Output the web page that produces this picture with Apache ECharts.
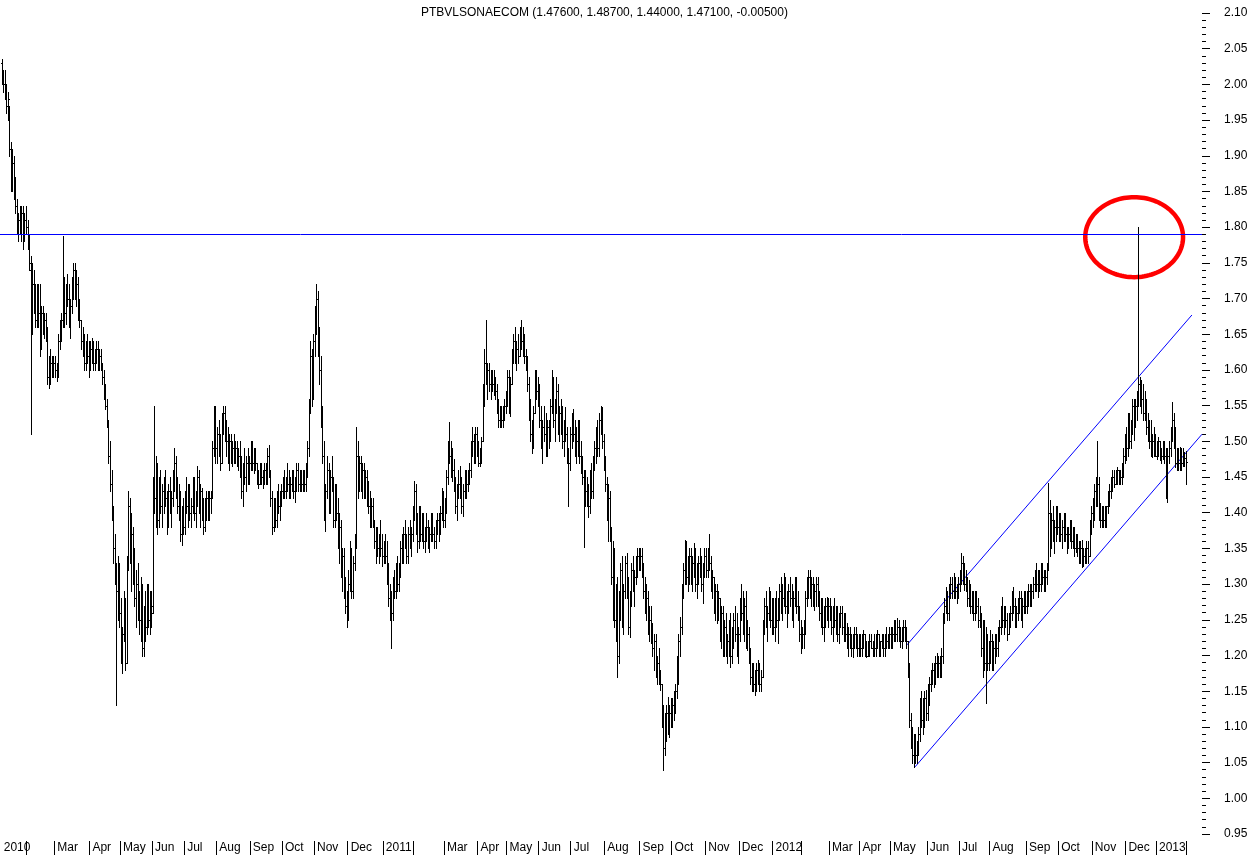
<!DOCTYPE html>
<html><head><meta charset="utf-8">
<script src="https://cdn.jsdelivr.net/npm/echarts@6/dist/echarts.min.js"></script>
<style>html,body{margin:0;padding:0;background:#fff}#c{width:1250px;height:855px}</style>
</head><body><div id="c"></div>
<script>
const chartTitle = 'PTBVLSONAECOM (1.47600, 1.48700, 1.44000, 1.47100, -0.00500)';
const monthLabels = ['2010','','Mar','Apr','May','Jun','Jul','Aug','Sep','Oct','Nov','Dec',
  '2011','','Mar','Apr','May','Jun','Jul','Aug','Sep','Oct','Nov','Dec',
  '2012','','Mar','Apr','May','Jun','Jul','Aug','Sep','Oct','Nov','Dec','2013'];
const yMin = 0.95, yMax = 2.10, yStep = 0.05;
// daily bars: [open, high, low, close], one inner array per month
const y2010 = [
[[2.03,2.035,2.00,2.01],[2.01,2.02,1.99,2.00],[2.00,2.02,1.98,1.99],[1.99,2.00,1.96,1.97],[1.97,1.99,1.95,1.98],[1.97,1.97,1.90,1.91],[1.91,1.92,1.85,1.86],[1.86,1.91,1.85,1.89],[1.89,1.90,1.84,1.85],[1.85,1.87,1.82,1.83],[1.83,1.84,1.79,1.80],[1.80,1.82,1.78,1.81],[1.81,1.83,1.79,1.80],[1.80,1.83,1.78,1.82],[1.82,1.83,1.77,1.79],[1.79,1.82,1.78,1.81],[1.81,1.83,1.79,1.80]],
[[1.80,1.81,1.77,1.78],[1.78,1.79,1.74,1.75],[1.74,1.76,1.51,1.66],[1.66,1.75,1.65,1.72],[1.72,1.74,1.68,1.70],[1.70,1.72,1.66,1.67],[1.67,1.72,1.66,1.71],[1.71,1.72,1.66,1.68],[1.68,1.72,1.62,1.64],[1.64,1.69,1.63,1.68],[1.68,1.69,1.65,1.66],[1.66,1.68,1.645,1.67],[1.67,1.68,1.64,1.65],[1.65,1.66,1.58,1.59],[1.59,1.62,1.575,1.60],[1.60,1.63,1.58,1.61],[1.61,1.62,1.59,1.60],[1.60,1.62,1.59,1.61]],
[[1.61,1.62,1.59,1.60],[1.60,1.61,1.585,1.59],[1.59,1.65,1.59,1.64],[1.64,1.67,1.63,1.66],[1.66,1.68,1.64,1.67],[1.67,1.788,1.66,1.72],[1.72,1.73,1.66,1.68],[1.68,1.72,1.665,1.71],[1.71,1.735,1.69,1.70],[1.70,1.72,1.66,1.67],[1.67,1.70,1.645,1.69],[1.69,1.73,1.68,1.72],[1.72,1.75,1.70,1.74],[1.74,1.75,1.70,1.71],[1.71,1.74,1.69,1.72],[1.72,1.73,1.67,1.68],[1.68,1.70,1.66,1.67],[1.67,1.67,1.63,1.64],[1.64,1.66,1.62,1.63],[1.63,1.65,1.60,1.61],[1.61,1.64,1.60,1.63],[1.63,1.65,1.61,1.62],[1.62,1.64,1.59,1.61]],
[[1.61,1.64,1.60,1.63],[1.63,1.645,1.61,1.62],[1.62,1.64,1.60,1.61],[1.61,1.63,1.60,1.62],[1.62,1.64,1.61,1.63],[1.63,1.64,1.60,1.61],[1.61,1.63,1.60,1.62],[1.62,1.63,1.60,1.60],[1.60,1.61,1.58,1.59],[1.59,1.60,1.56,1.57],[1.57,1.58,1.545,1.55],[1.55,1.56,1.52,1.53],[1.53,1.53,1.47,1.48],[1.48,1.50,1.43,1.44],[1.44,1.46,1.39,1.40],[1.40,1.41,1.33,1.35],[1.35,1.37,1.30,1.31],[1.31,1.33,1.13,1.29],[1.29,1.34,1.25,1.32],[1.32,1.33,1.24,1.26]],
[[1.26,1.28,1.19,1.20],[1.20,1.24,1.175,1.23],[1.23,1.29,1.22,1.27],[1.27,1.28,1.18,1.19],[1.19,1.34,1.19,1.33],[1.33,1.43,1.32,1.41],[1.41,1.42,1.33,1.35],[1.35,1.40,1.29,1.37],[1.37,1.38,1.30,1.31],[1.31,1.35,1.27,1.28],[1.28,1.32,1.24,1.30],[1.30,1.33,1.25,1.26],[1.26,1.29,1.23,1.25],[1.25,1.31,1.22,1.29],[1.29,1.30,1.20,1.21],[1.21,1.27,1.20,1.26],[1.26,1.29,1.22,1.24],[1.24,1.30,1.23,1.28],[1.28,1.30,1.24,1.25],[1.25,1.29,1.23,1.27],[1.27,1.29,1.24,1.26]],
[[1.27,1.45,1.26,1.44],[1.44,1.55,1.40,1.42],[1.42,1.48,1.38,1.46],[1.46,1.47,1.37,1.39],[1.39,1.45,1.38,1.43],[1.43,1.46,1.40,1.41],[1.41,1.44,1.38,1.43],[1.43,1.45,1.40,1.44],[1.44,1.46,1.41,1.42],[1.42,1.43,1.37,1.39],[1.39,1.44,1.38,1.43],[1.43,1.45,1.40,1.41],[1.41,1.43,1.38,1.42],[1.42,1.46,1.41,1.45],[1.45,1.49,1.43,1.47],[1.47,1.48,1.42,1.43],[1.43,1.45,1.40,1.41],[1.41,1.44,1.39,1.42],[1.42,1.43,1.36,1.37],[1.37,1.41,1.355,1.40],[1.40,1.42,1.37,1.38]],
[[1.38,1.43,1.37,1.42],[1.42,1.45,1.40,1.41],[1.41,1.44,1.38,1.43],[1.43,1.44,1.39,1.40],[1.40,1.42,1.38,1.41],[1.41,1.45,1.40,1.44],[1.44,1.45,1.39,1.40],[1.40,1.43,1.38,1.42],[1.42,1.465,1.41,1.45],[1.45,1.46,1.40,1.41],[1.41,1.44,1.38,1.43],[1.43,1.435,1.39,1.40],[1.40,1.42,1.37,1.38],[1.38,1.42,1.375,1.41],[1.41,1.43,1.39,1.42],[1.42,1.43,1.39,1.40],[1.40,1.43,1.39,1.42],[1.42,1.43,1.40,1.42],[1.42,1.50,1.42,1.49],[1.49,1.55,1.48,1.53],[1.53,1.55,1.47,1.49]],
[[1.49,1.52,1.47,1.51],[1.51,1.53,1.48,1.49],[1.49,1.51,1.46,1.47],[1.47,1.54,1.47,1.53],[1.53,1.55,1.51,1.54],[1.54,1.55,1.50,1.51],[1.51,1.53,1.48,1.50],[1.50,1.52,1.47,1.48],[1.48,1.51,1.46,1.50],[1.50,1.51,1.47,1.48],[1.48,1.50,1.465,1.49],[1.49,1.51,1.47,1.48],[1.48,1.50,1.47,1.49],[1.49,1.50,1.465,1.47],[1.47,1.49,1.46,1.48],[1.48,1.50,1.45,1.46],[1.46,1.48,1.42,1.43],[1.43,1.47,1.41,1.46],[1.46,1.49,1.44,1.45],[1.45,1.48,1.43,1.47],[1.47,1.49,1.44,1.45],[1.45,1.48,1.44,1.47]],
[[1.47,1.50,1.46,1.49],[1.49,1.50,1.46,1.47],[1.47,1.49,1.455,1.48],[1.48,1.49,1.46,1.47],[1.47,1.47,1.44,1.45],[1.45,1.46,1.435,1.44],[1.44,1.47,1.44,1.46],[1.46,1.47,1.44,1.45],[1.45,1.46,1.435,1.44],[1.44,1.47,1.44,1.46],[1.46,1.47,1.44,1.45],[1.45,1.49,1.44,1.48],[1.48,1.495,1.45,1.46],[1.46,1.46,1.41,1.42],[1.42,1.43,1.37,1.38],[1.38,1.42,1.375,1.41],[1.41,1.42,1.38,1.39],[1.39,1.43,1.38,1.42],[1.42,1.44,1.40,1.41],[1.41,1.43,1.39,1.42],[1.42,1.44,1.41,1.43]],
[[1.43,1.45,1.42,1.44],[1.44,1.46,1.42,1.43],[1.43,1.45,1.42,1.45],[1.45,1.47,1.43,1.44],[1.44,1.46,1.42,1.43],[1.43,1.45,1.42,1.44],[1.44,1.46,1.43,1.45],[1.45,1.46,1.42,1.43],[1.43,1.45,1.415,1.44],[1.44,1.47,1.43,1.46],[1.46,1.47,1.43,1.44],[1.44,1.46,1.43,1.45],[1.45,1.46,1.43,1.44],[1.44,1.46,1.43,1.45],[1.45,1.46,1.43,1.44],[1.44,1.47,1.43,1.46],[1.46,1.50,1.45,1.49],[1.49,1.56,1.48,1.55],[1.55,1.64,1.54,1.62],[1.62,1.63,1.55,1.57],[1.57,1.65,1.56,1.64]],
[[1.64,1.69,1.62,1.68],[1.68,1.72,1.65,1.70],[1.70,1.71,1.62,1.63],[1.63,1.66,1.58,1.60],[1.60,1.62,1.52,1.53],[1.53,1.55,1.47,1.48],[1.48,1.50,1.39,1.40],[1.40,1.44,1.375,1.43],[1.43,1.48,1.42,1.46],[1.46,1.47,1.40,1.41],[1.41,1.46,1.40,1.45],[1.45,1.48,1.43,1.44],[1.44,1.45,1.38,1.39],[1.39,1.44,1.38,1.43],[1.43,1.44,1.39,1.40],[1.40,1.42,1.35,1.36],[1.36,1.40,1.33,1.38],[1.38,1.39,1.31,1.32],[1.32,1.35,1.29,1.34],[1.34,1.35,1.28,1.29],[1.29,1.31,1.26,1.27],[1.27,1.29,1.24,1.26]],
[[1.26,1.32,1.25,1.30],[1.30,1.36,1.29,1.34],[1.34,1.35,1.28,1.29],[1.29,1.34,1.28,1.33],[1.33,1.37,1.32,1.36],[1.36,1.52,1.35,1.48],[1.48,1.50,1.42,1.44],[1.44,1.48,1.43,1.47],[1.47,1.48,1.43,1.44],[1.44,1.47,1.42,1.46],[1.46,1.47,1.42,1.43],[1.43,1.46,1.42,1.45],[1.45,1.46,1.41,1.42],[1.42,1.445,1.40,1.41],[1.41,1.43,1.38,1.39],[1.39,1.42,1.38,1.41],[1.41,1.42,1.38,1.38],[1.38,1.39,1.35,1.36],[1.36,1.38,1.33,1.37],[1.37,1.38,1.34,1.35],[1.35,1.37,1.33,1.36],[1.36,1.39,1.34,1.35],[1.35,1.37,1.325,1.34]]
];
const y2011 = [
[[1.34,1.36,1.33,1.35],[1.35,1.37,1.33,1.34],[1.34,1.36,1.30,1.31],[1.31,1.33,1.27,1.28],[1.28,1.30,1.25,1.27],[1.27,1.29,1.21,1.26],[1.26,1.31,1.25,1.30],[1.30,1.32,1.28,1.29],[1.29,1.33,1.28,1.32],[1.32,1.34,1.29,1.30],[1.30,1.33,1.29,1.32],[1.32,1.36,1.31,1.35],[1.35,1.37,1.33,1.34],[1.34,1.38,1.33,1.37],[1.37,1.39,1.35,1.36],[1.36,1.37,1.33,1.34],[1.34,1.38,1.33,1.37],[1.37,1.39,1.35,1.36],[1.36,1.38,1.34,1.37],[1.37,1.41,1.36,1.40]],
[[1.40,1.445,1.39,1.43],[1.43,1.44,1.37,1.38],[1.38,1.40,1.345,1.36],[1.36,1.41,1.35,1.40],[1.40,1.41,1.36,1.37],[1.37,1.40,1.36,1.39],[1.39,1.40,1.35,1.36],[1.36,1.38,1.345,1.37],[1.37,1.40,1.36,1.38],[1.38,1.39,1.35,1.36],[1.36,1.38,1.345,1.37],[1.37,1.40,1.36,1.39],[1.39,1.40,1.36,1.37],[1.37,1.38,1.35,1.36],[1.36,1.39,1.35,1.38],[1.38,1.40,1.37,1.39],[1.39,1.40,1.36,1.37],[1.37,1.41,1.37,1.40],[1.40,1.435,1.39,1.42],[1.42,1.43,1.38,1.39]],
[[1.39,1.42,1.38,1.41],[1.41,1.46,1.40,1.45],[1.45,1.50,1.44,1.49],[1.49,1.527,1.47,1.48],[1.48,1.50,1.45,1.47],[1.47,1.49,1.445,1.46],[1.46,1.475,1.43,1.44],[1.44,1.45,1.40,1.41],[1.41,1.44,1.39,1.43],[1.43,1.46,1.42,1.44],[1.44,1.465,1.42,1.43],[1.43,1.45,1.40,1.41],[1.41,1.44,1.395,1.43],[1.43,1.46,1.42,1.45],[1.45,1.46,1.42,1.44],[1.44,1.46,1.43,1.45],[1.45,1.47,1.44,1.46],[1.46,1.50,1.45,1.49],[1.49,1.52,1.48,1.50],[1.50,1.51,1.47,1.48],[1.48,1.52,1.47,1.51],[1.51,1.52,1.48,1.49]],
[[1.49,1.50,1.465,1.47],[1.47,1.49,1.465,1.48],[1.48,1.506,1.47,1.50],[1.50,1.58,1.50,1.57],[1.57,1.63,1.55,1.61],[1.61,1.67,1.58,1.59],[1.59,1.61,1.56,1.60],[1.60,1.61,1.57,1.58],[1.58,1.60,1.56,1.59],[1.59,1.60,1.57,1.58],[1.58,1.60,1.565,1.59],[1.59,1.59,1.56,1.57],[1.57,1.58,1.54,1.55],[1.55,1.56,1.52,1.53],[1.53,1.55,1.52,1.54],[1.54,1.55,1.52,1.53],[1.53,1.55,1.52,1.54],[1.54,1.56,1.53,1.55],[1.55,1.57,1.54,1.56]],
[[1.56,1.60,1.55,1.59],[1.59,1.60,1.54,1.55],[1.55,1.59,1.535,1.58],[1.58,1.63,1.58,1.62],[1.62,1.65,1.61,1.64],[1.64,1.66,1.61,1.62],[1.62,1.64,1.60,1.63],[1.63,1.65,1.61,1.62],[1.62,1.66,1.62,1.65],[1.65,1.67,1.63,1.64],[1.64,1.66,1.62,1.63],[1.63,1.65,1.61,1.62],[1.62,1.63,1.60,1.61],[1.61,1.62,1.57,1.58],[1.58,1.59,1.53,1.54],[1.54,1.56,1.50,1.51],[1.51,1.53,1.483,1.50],[1.50,1.55,1.49,1.54],[1.54,1.60,1.54,1.59],[1.59,1.60,1.56,1.57],[1.57,1.59,1.55,1.58]],
[[1.58,1.58,1.52,1.53],[1.53,1.55,1.49,1.50],[1.50,1.53,1.47,1.52],[1.52,1.55,1.50,1.51],[1.51,1.54,1.48,1.49],[1.49,1.53,1.48,1.52],[1.52,1.53,1.49,1.50],[1.50,1.56,1.50,1.55],[1.55,1.60,1.54,1.58],[1.58,1.59,1.52,1.53],[1.53,1.56,1.50,1.55],[1.55,1.59,1.54,1.57],[1.57,1.58,1.51,1.52],[1.52,1.55,1.50,1.54],[1.54,1.56,1.51,1.52],[1.52,1.55,1.49,1.50],[1.50,1.53,1.48,1.52],[1.52,1.548,1.50,1.51],[1.51,1.52,1.47,1.48],[1.48,1.49,1.41,1.47],[1.47,1.52,1.46,1.51]],
[[1.51,1.54,1.49,1.53],[1.53,1.545,1.50,1.51],[1.51,1.53,1.48,1.49],[1.49,1.52,1.47,1.50],[1.50,1.53,1.48,1.52],[1.52,1.53,1.47,1.48],[1.48,1.50,1.455,1.47],[1.47,1.48,1.44,1.45],[1.45,1.46,1.352,1.44],[1.44,1.46,1.41,1.43],[1.43,1.45,1.41,1.42],[1.42,1.44,1.394,1.41],[1.41,1.46,1.40,1.45],[1.45,1.47,1.42,1.43],[1.43,1.48,1.42,1.47],[1.47,1.50,1.46,1.49],[1.49,1.52,1.47,1.51],[1.51,1.53,1.48,1.49],[1.49,1.54,1.48,1.53],[1.53,1.55,1.51,1.52],[1.52,1.548,1.49,1.50],[1.50,1.51,1.46,1.47]],
[[1.47,1.48,1.43,1.44],[1.44,1.45,1.39,1.40],[1.40,1.44,1.36,1.42],[1.42,1.43,1.36,1.37],[1.37,1.38,1.30,1.31],[1.31,1.36,1.25,1.34],[1.34,1.35,1.24,1.25],[1.25,1.30,1.22,1.28],[1.28,1.31,1.17,1.20],[1.20,1.29,1.19,1.27],[1.27,1.33,1.25,1.32],[1.32,1.34,1.24,1.25],[1.25,1.30,1.23,1.29],[1.29,1.34,1.28,1.33],[1.33,1.344,1.28,1.29],[1.29,1.31,1.23,1.24],[1.24,1.29,1.226,1.28],[1.28,1.33,1.27,1.32],[1.32,1.34,1.29,1.30],[1.30,1.32,1.27,1.31],[1.31,1.34,1.30,1.33],[1.33,1.35,1.31,1.34],[1.34,1.35,1.32,1.33]],
[[1.33,1.35,1.32,1.34],[1.34,1.35,1.31,1.32],[1.32,1.33,1.28,1.29],[1.29,1.31,1.26,1.27],[1.27,1.30,1.25,1.28],[1.28,1.29,1.23,1.24],[1.24,1.27,1.22,1.25],[1.25,1.27,1.217,1.23],[1.23,1.245,1.20,1.21],[1.21,1.23,1.18,1.22],[1.22,1.23,1.17,1.18],[1.18,1.20,1.16,1.19],[1.19,1.21,1.16,1.17],[1.17,1.18,1.152,1.16],[1.16,1.16,1.10,1.11],[1.11,1.13,1.04,1.07],[1.07,1.12,1.06,1.10],[1.10,1.13,1.08,1.12],[1.12,1.142,1.09,1.10],[1.10,1.13,1.086,1.12],[1.12,1.14,1.10,1.11]],
[[1.11,1.14,1.10,1.13],[1.13,1.15,1.11,1.14],[1.14,1.16,1.12,1.15],[1.15,1.20,1.14,1.19],[1.19,1.23,1.16,1.22],[1.22,1.254,1.20,1.24],[1.24,1.30,1.23,1.29],[1.29,1.33,1.28,1.32],[1.32,1.362,1.30,1.35],[1.35,1.36,1.30,1.31],[1.31,1.34,1.29,1.33],[1.33,1.35,1.30,1.34],[1.34,1.35,1.30,1.31],[1.31,1.34,1.29,1.33],[1.33,1.358,1.31,1.34],[1.34,1.35,1.29,1.30],[1.30,1.33,1.28,1.32],[1.32,1.34,1.30,1.33],[1.33,1.35,1.31,1.32],[1.32,1.34,1.29,1.30],[1.30,1.33,1.274,1.32],[1.32,1.35,1.31,1.34]],
[[1.34,1.35,1.31,1.32],[1.32,1.35,1.31,1.34],[1.34,1.37,1.32,1.33],[1.33,1.34,1.29,1.30],[1.30,1.32,1.28,1.31],[1.31,1.31,1.26,1.27],[1.27,1.30,1.25,1.29],[1.29,1.30,1.245,1.26],[1.26,1.29,1.25,1.28],[1.28,1.28,1.22,1.23],[1.23,1.27,1.21,1.26],[1.26,1.27,1.20,1.21],[1.21,1.25,1.20,1.24],[1.24,1.26,1.20,1.21],[1.21,1.23,1.19,1.22],[1.22,1.25,1.20,1.24],[1.24,1.26,1.184,1.20],[1.20,1.24,1.19,1.23],[1.23,1.26,1.21,1.25],[1.25,1.27,1.22,1.23],[1.23,1.26,1.20,1.21],[1.21,1.24,1.19,1.23]],
[[1.23,1.28,1.22,1.27],[1.27,1.30,1.25,1.26],[1.26,1.29,1.23,1.24],[1.24,1.28,1.22,1.27],[1.27,1.29,1.21,1.22],[1.22,1.25,1.208,1.23],[1.23,1.24,1.19,1.20],[1.20,1.21,1.16,1.17],[1.17,1.19,1.15,1.18],[1.18,1.19,1.15,1.16],[1.16,1.18,1.145,1.17],[1.17,1.19,1.15,1.18],[1.18,1.194,1.16,1.17],[1.17,1.19,1.15,1.16],[1.16,1.18,1.15,1.17],[1.17,1.25,1.17,1.24],[1.24,1.28,1.23,1.27],[1.27,1.29,1.24,1.25],[1.25,1.27,1.22,1.26],[1.26,1.296,1.25,1.28],[1.28,1.29,1.24,1.25],[1.25,1.28,1.23,1.27]]
];
const y2012 = [
[[1.27,1.28,1.23,1.24],[1.24,1.28,1.22,1.27],[1.27,1.29,1.24,1.25],[1.25,1.28,1.218,1.26],[1.26,1.30,1.25,1.29],[1.29,1.31,1.26,1.27],[1.27,1.30,1.25,1.28],[1.28,1.315,1.27,1.30],[1.30,1.31,1.26,1.27],[1.27,1.29,1.24,1.28],[1.28,1.30,1.26,1.29],[1.29,1.31,1.27,1.28],[1.28,1.30,1.25,1.26],[1.26,1.29,1.24,1.28],[1.28,1.31,1.27,1.30],[1.30,1.31,1.26,1.27],[1.27,1.29,1.25,1.26],[1.26,1.27,1.22,1.23],[1.23,1.25,1.204,1.22]],
[[1.22,1.24,1.21,1.23],[1.23,1.25,1.21,1.24],[1.24,1.29,1.23,1.28],[1.28,1.31,1.27,1.30],[1.30,1.32,1.28,1.31],[1.31,1.32,1.28,1.29],[1.29,1.31,1.27,1.30],[1.30,1.31,1.27,1.28],[1.28,1.30,1.264,1.29],[1.29,1.31,1.27,1.30],[1.30,1.31,1.27,1.28],[1.28,1.29,1.25,1.26],[1.26,1.28,1.24,1.27],[1.27,1.28,1.23,1.24],[1.24,1.27,1.22,1.26],[1.26,1.28,1.24,1.27],[1.27,1.282,1.25,1.26],[1.26,1.28,1.24,1.27]],
[[1.27,1.28,1.25,1.26],[1.26,1.27,1.23,1.24],[1.24,1.27,1.22,1.26],[1.26,1.28,1.24,1.25],[1.25,1.27,1.23,1.26],[1.26,1.27,1.22,1.23],[1.23,1.26,1.218,1.25],[1.25,1.27,1.24,1.26],[1.26,1.27,1.23,1.24],[1.24,1.26,1.22,1.25],[1.25,1.26,1.22,1.23],[1.23,1.245,1.21,1.22],[1.22,1.24,1.20,1.23],[1.23,1.24,1.21,1.22],[1.22,1.23,1.20,1.21],[1.21,1.23,1.198,1.22],[1.22,1.24,1.21,1.23],[1.23,1.24,1.21,1.22],[1.22,1.23,1.20,1.21],[1.21,1.23,1.20,1.22]],
[[1.22,1.23,1.20,1.21],[1.21,1.23,1.20,1.22],[1.22,1.236,1.21,1.23],[1.23,1.23,1.20,1.21],[1.21,1.22,1.198,1.20],[1.20,1.22,1.20,1.21],[1.21,1.23,1.20,1.22],[1.22,1.23,1.21,1.21],[1.21,1.22,1.20,1.22],[1.22,1.23,1.20,1.21],[1.21,1.23,1.20,1.22],[1.22,1.236,1.21,1.23],[1.23,1.23,1.20,1.21],[1.21,1.22,1.20,1.22],[1.22,1.23,1.21,1.22],[1.22,1.23,1.20,1.21],[1.21,1.23,1.20,1.23],[1.23,1.24,1.21,1.22],[1.22,1.23,1.21,1.22],[1.22,1.24,1.21,1.23]],
[[1.23,1.24,1.21,1.22],[1.22,1.24,1.21,1.23],[1.23,1.25,1.22,1.24],[1.24,1.25,1.22,1.23],[1.23,1.253,1.22,1.24],[1.24,1.25,1.22,1.23],[1.23,1.24,1.212,1.22],[1.22,1.24,1.21,1.23],[1.23,1.25,1.22,1.24],[1.24,1.25,1.22,1.23],[1.23,1.24,1.21,1.22],[1.22,1.22,1.17,1.18],[1.18,1.19,1.10,1.11],[1.11,1.12,1.07,1.08],[1.08,1.10,1.05,1.06],[1.06,1.09,1.044,1.07],[1.07,1.09,1.05,1.06],[1.06,1.08,1.05,1.07],[1.07,1.10,1.06,1.09],[1.09,1.14,1.08,1.13],[1.13,1.15,1.10,1.11],[1.11,1.14,1.09,1.13],[1.13,1.15,1.10,1.14],[1.14,1.152,1.11,1.12]],
[[1.12,1.16,1.11,1.15],[1.15,1.17,1.13,1.16],[1.16,1.18,1.15,1.17],[1.17,1.19,1.16,1.18],[1.18,1.19,1.156,1.17],[1.17,1.20,1.16,1.19],[1.19,1.204,1.17,1.18],[1.18,1.20,1.17,1.19],[1.19,1.20,1.17,1.18],[1.18,1.21,1.17,1.20],[1.20,1.26,1.19,1.25],[1.25,1.28,1.245,1.27],[1.27,1.296,1.26,1.28],[1.28,1.29,1.25,1.26],[1.26,1.30,1.25,1.29],[1.29,1.31,1.28,1.30],[1.30,1.31,1.28,1.29],[1.29,1.315,1.28,1.30],[1.30,1.31,1.28,1.29],[1.29,1.30,1.274,1.29],[1.29,1.31,1.28,1.30]],
[[1.30,1.32,1.29,1.31],[1.31,1.344,1.30,1.33],[1.33,1.34,1.30,1.31],[1.31,1.33,1.292,1.30],[1.30,1.32,1.29,1.31],[1.31,1.31,1.27,1.28],[1.28,1.306,1.27,1.29],[1.29,1.30,1.26,1.27],[1.27,1.29,1.26,1.28],[1.28,1.29,1.25,1.26],[1.26,1.29,1.25,1.28],[1.28,1.29,1.26,1.27],[1.27,1.28,1.24,1.25],[1.25,1.27,1.24,1.26],[1.26,1.26,1.20,1.21],[1.21,1.25,1.17,1.24],[1.24,1.25,1.18,1.19],[1.19,1.24,1.134,1.22],[1.22,1.23,1.18,1.19],[1.19,1.22,1.18,1.21]],
[[1.21,1.236,1.19,1.22],[1.22,1.23,1.18,1.20],[1.20,1.22,1.18,1.21],[1.21,1.23,1.19,1.22],[1.22,1.23,1.20,1.21],[1.21,1.24,1.20,1.23],[1.23,1.25,1.22,1.24],[1.24,1.27,1.23,1.26],[1.26,1.282,1.24,1.25],[1.25,1.27,1.23,1.26],[1.26,1.27,1.24,1.25],[1.25,1.26,1.222,1.23],[1.23,1.26,1.23,1.25],[1.25,1.27,1.24,1.26],[1.26,1.29,1.25,1.28],[1.28,1.296,1.26,1.27],[1.27,1.28,1.24,1.25],[1.25,1.27,1.24,1.26],[1.26,1.28,1.25,1.27],[1.27,1.29,1.26,1.28],[1.28,1.29,1.25,1.26],[1.26,1.28,1.24,1.27],[1.27,1.29,1.26,1.28],[1.28,1.29,1.26,1.27]],
[[1.27,1.29,1.26,1.28],[1.28,1.30,1.27,1.29],[1.29,1.30,1.27,1.28],[1.28,1.30,1.27,1.29],[1.29,1.31,1.28,1.30],[1.30,1.32,1.29,1.31],[1.31,1.33,1.29,1.30],[1.30,1.32,1.282,1.31],[1.31,1.32,1.29,1.30],[1.30,1.33,1.29,1.32],[1.32,1.33,1.30,1.31],[1.31,1.32,1.29,1.30],[1.30,1.32,1.29,1.31],[1.31,1.33,1.30,1.32],[1.32,1.442,1.32,1.40],[1.40,1.418,1.34,1.36],[1.36,1.40,1.35,1.39],[1.39,1.41,1.36,1.37],[1.37,1.39,1.344,1.38],[1.38,1.41,1.36,1.40],[1.40,1.41,1.37,1.38]],
[[1.38,1.40,1.36,1.39],[1.39,1.40,1.36,1.37],[1.37,1.39,1.35,1.38],[1.38,1.40,1.36,1.39],[1.39,1.40,1.36,1.37],[1.37,1.38,1.344,1.36],[1.36,1.38,1.35,1.37],[1.37,1.39,1.36,1.38],[1.38,1.39,1.35,1.36],[1.36,1.38,1.35,1.37],[1.37,1.38,1.34,1.35],[1.35,1.37,1.345,1.36],[1.36,1.37,1.34,1.35],[1.35,1.36,1.33,1.34],[1.34,1.36,1.33,1.35],[1.35,1.362,1.324,1.33],[1.33,1.35,1.325,1.34],[1.34,1.35,1.33,1.34],[1.34,1.36,1.33,1.35],[1.35,1.36,1.33,1.34],[1.34,1.39,1.34,1.38],[1.38,1.41,1.37,1.40]],
[[1.40,1.42,1.38,1.41],[1.41,1.44,1.39,1.43],[1.43,1.45,1.41,1.42],[1.42,1.50,1.41,1.44],[1.44,1.45,1.39,1.40],[1.40,1.414,1.38,1.39],[1.39,1.41,1.38,1.40],[1.40,1.41,1.38,1.39],[1.39,1.41,1.38,1.40],[1.40,1.41,1.38,1.41],[1.41,1.43,1.40,1.42],[1.42,1.44,1.41,1.43],[1.43,1.45,1.42,1.44],[1.44,1.46,1.43,1.45],[1.45,1.46,1.436,1.44],[1.44,1.46,1.44,1.45],[1.45,1.464,1.44,1.46],[1.46,1.46,1.44,1.45],[1.45,1.46,1.44,1.45],[1.45,1.47,1.44,1.46],[1.46,1.49,1.45,1.48],[1.48,1.51,1.47,1.50]],
[[1.50,1.52,1.474,1.49],[1.49,1.54,1.48,1.53],[1.53,1.54,1.49,1.50],[1.50,1.53,1.49,1.52],[1.52,1.56,1.51,1.55],[1.55,1.56,1.502,1.53],[1.53,1.56,1.52,1.55],[1.55,1.57,1.53,1.56],[1.56,1.80,1.55,1.58],[1.58,1.59,1.55,1.57],[1.57,1.586,1.54,1.56],[1.56,1.58,1.53,1.54],[1.54,1.57,1.53,1.55],[1.55,1.56,1.51,1.52],[1.52,1.54,1.50,1.51],[1.51,1.53,1.49,1.50],[1.50,1.53,1.48,1.49],[1.49,1.51,1.478,1.50],[1.50,1.52,1.48,1.49],[1.49,1.51,1.48,1.48]]
];
const y2013 = [
[[1.48,1.50,1.475,1.49],[1.49,1.506,1.48,1.50],[1.50,1.50,1.474,1.48],[1.48,1.49,1.47,1.48],[1.48,1.50,1.475,1.49],[1.49,1.50,1.47,1.48],[1.48,1.49,1.42,1.47],[1.47,1.49,1.415,1.48],[1.48,1.50,1.47,1.49],[1.49,1.52,1.48,1.51],[1.51,1.555,1.50,1.53],[1.53,1.54,1.49,1.50],[1.50,1.52,1.464,1.47],[1.47,1.49,1.46,1.48],[1.48,1.49,1.46,1.47],[1.47,1.492,1.46,1.48],[1.48,1.49,1.46,1.47],[1.47,1.49,1.465,1.48],[1.48,1.485,1.465,1.476],[1.476,1.487,1.44,1.471]]
];
// annotations (bar index, price)
const resistanceLevel = 1.787;
const channelUpper = [[592.6, 1.215], [779, 1.677]];
const channelLower = [[597.8, 1.044], [785.6, 1.510]];
const highlight = [[741.2, 1.786, 32, 0.056]]; // center bar, center price, half-width (bars), half-height (price)

// ---- build ----
const months = [...y2010, ...y2011, ...y2012, ...y2013];
const bars = [];
const monthStarts = [];
months.forEach(m => { monthStarts.push(bars.length); m.forEach(b => bars.push([bars.length, b[0], b[1], b[2], b[3]])); });
const seps = monthStarts.map(s => s - 0.5).concat([bars.length - 0.5]);
const sepLabels = monthLabels.concat(['']);
const xMin = -1, xMax = 785.6;
const FONT = "'Liberation Sans', Arial, sans-serif";

function renderOHLC(params, api) {
  const i = api.value(0);
  const pH = api.coord([i, api.value(2)]);
  const pL = api.coord([i, api.value(3)]);
  const pO = api.coord([i, api.value(1)]);
  const pC = api.coord([i, api.value(4)]);
  const px = Math.round(pH[0]);
  const x = px + 0.5;
  const yO = Math.round(pO[1]) + 0.5, yC = Math.round(pC[1]) + 0.5;
  const st = { stroke: '#000', lineWidth: 1 };
  return { type: 'group', children: [
    { type: 'line', shape: { x1: x, y1: Math.round(pH[1]), x2: x, y2: Math.round(pL[1]) + 1 }, style: st },
    { type: 'line', shape: { x1: px - 1, y1: yO, x2: px + 1, y2: yO }, style: st },
    { type: 'line', shape: { x1: px, y1: yC, x2: px + 2, y2: yC }, style: st }
  ]};
}
function renderEllipse(params, api) {
  const c = api.coord([api.value(0), api.value(1)]);
  const s = api.size([api.value(2), api.value(3)]);
  const pts = [];
  for (let k = 0; k < 120; k++) {
    const a = k / 120 * 2 * Math.PI;
    pts.push([c[0] + s[0] * Math.cos(a), c[1] + s[1] * Math.sin(a)]);
  }
  return { type: 'polygon', shape: { points: pts }, style: { fill: 'none', stroke: '#ff0000', lineWidth: 4.5 } };
}

const chart = echarts.init(document.getElementById('c'), null, { renderer: 'canvas' });
chart.setOption({
  animation: false,
  backgroundColor: '#ffffff',
  title: { text: chartTitle, left: 416, top: 2, textStyle: { fontSize: 12, fontWeight: 'normal', color: '#000', fontFamily: FONT } },
  grid: { left: 0, right: 48, top: 13, bottom: 21, containLabel: false, outerBoundsMode: 'none' },
  xAxis: {
    type: 'value', min: xMin, max: xMax, offset: 7,
    axisLine: { show: false, onZero: false }, splitLine: { show: false },
    axisTick: { show: true, customValues: seps.slice(1), length: 14, lineStyle: { color: '#000', width: 1 } },
    axisLabel: {
      show: true, customValues: seps, margin: 1, align: 'left', padding: [0, 0, 0, 3],
      color: '#000', fontSize: 12, fontFamily: FONT,
      formatter: v => { const k = seps.findIndex(s => Math.abs(s - v) < 1e-6); return k >= 0 ? sepLabels[k] : ''; }
    }
  },
  yAxis: {
    type: 'value', position: 'right', min: yMin, max: yMax, interval: yStep,
    axisLine: { show: false, onZero: false }, splitLine: { show: false },
    axisTick: { show: true, length: 8, lineStyle: { color: '#000' } },
    minorTick: { show: true, splitNumber: 5, length: 4, lineStyle: { color: '#000' } },
    minorSplitLine: { show: false },
    axisLabel: { margin: 22, color: '#000', fontSize: 12, fontFamily: FONT, formatter: v => v.toFixed(2) }
  },
  series: [
    {
      type: 'line', data: channelUpper, showSymbol: false, silent: true, z: 2,
      lineStyle: { color: '#0000ff', width: 1 },
      markLine: { silent: true, symbol: ['none', 'none'], label: { show: false },
        lineStyle: { color: '#0000ff', width: 1, type: 'solid' }, data: [{ yAxis: resistanceLevel }] }
    },
    { type: 'line', data: channelLower, showSymbol: false, silent: true, z: 2, lineStyle: { color: '#0000ff', width: 1 } },
    { type: 'custom', data: highlight, renderItem: renderEllipse, silent: true, z: 3, encode: { x: 0, y: 1 } },
    { type: 'custom', data: bars, renderItem: renderOHLC, silent: true, z: 4, encode: { x: 0, y: [1, 2, 3, 4] } }
  ]
});
</script>
</body></html>
